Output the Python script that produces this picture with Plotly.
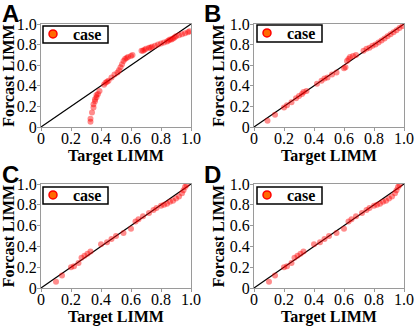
import plotly.graph_objects as go

# ---------------- data ----------------
xa = [0.33,0.33,0.34,0.35,0.35,0.36,0.36,0.37,0.37,0.38,0.39,0.42,0.43,0.44,0.45,0.47,0.49,0.51,0.52,0.53,
      0.54,0.55,0.56,0.57,0.58,0.60,0.61,0.67,0.68,0.69,0.70,0.72,0.73,0.74,0.76,0.78,0.80,0.82,0.84,0.85,
      0.86,0.87,0.88,0.89,0.90,0.92,0.94,0.96,0.98,0.99]
ya = [0.05,0.08,0.14,0.19,0.22,0.25,0.27,0.29,0.31,0.32,0.35,0.41,0.43,0.44,0.45,0.48,0.51,0.53,0.55,0.58,
      0.61,0.64,0.66,0.67,0.68,0.69,0.70,0.74,0.74,0.75,0.76,0.77,0.77,0.78,0.79,0.80,0.81,0.82,0.83,0.84,
      0.85,0.85,0.86,0.87,0.88,0.89,0.90,0.91,0.92,0.93]

xb = [0.09,0.14,0.20,0.22,0.25,0.28,0.30,0.32,0.33,0.35,0.42,0.45,0.47,0.49,0.52,0.55,0.60,0.61,0.62,0.63,
      0.64,0.66,0.68,0.73,0.75,0.77,0.79,0.81,0.83,0.85,0.87,0.89,0.91,0.93,0.95,0.97,0.99]
yb = [0.06,0.12,0.19,0.21,0.24,0.28,0.30,0.32,0.34,0.35,0.42,0.45,0.47,0.48,0.51,0.53,0.57,0.58,0.64,0.66,
      0.68,0.69,0.70,0.74,0.76,0.77,0.79,0.80,0.82,0.84,0.86,0.88,0.90,0.92,0.94,0.96,0.98]

xc = [0.10,0.14,0.20,0.22,0.25,0.27,0.29,0.31,0.33,0.40,0.44,0.47,0.50,0.55,0.60,0.63,0.65,0.68,0.72,0.75,
      0.77,0.80,0.82,0.84,0.86,0.88,0.90,0.92,0.94,0.95,0.96,0.97]
yc = [0.06,0.12,0.20,0.21,0.24,0.29,0.31,0.33,0.35,0.42,0.44,0.47,0.50,0.53,0.57,0.64,0.66,0.69,0.72,0.75,
      0.77,0.79,0.80,0.81,0.83,0.84,0.86,0.88,0.91,0.94,0.97,0.99]

xd = [0.10,0.14,0.20,0.22,0.25,0.27,0.29,0.31,0.33,0.40,0.44,0.47,0.50,0.55,0.60,0.63,0.65,0.68,0.72,0.75,
      0.77,0.80,0.82,0.84,0.86,0.88,0.90,0.92,0.94,0.95,0.96,0.97]
yd = [0.06,0.12,0.20,0.21,0.24,0.29,0.31,0.33,0.35,0.42,0.44,0.47,0.50,0.53,0.57,0.64,0.66,0.69,0.72,0.75,
      0.77,0.79,0.80,0.81,0.83,0.84,0.86,0.88,0.91,0.94,0.97,0.99]

diag = [0, 1]
tick_vals = [0, 0.2, 0.4, 0.6, 0.8, 1.0]
tick_text = ["0", "0.2", "0.4", "0.6", "0.8", "1.0"]
panel_labels = ["A", "B", "C", "D"]
series_name = "case"
x_title = "Target LIMM"
y_title = "Forcast LIMM"

# ---------------- figure ----------------
W, H = 415, 327
fig = go.Figure()

panels = [(xa, ya), (xb, yb), (xc, yc), (xd, yd)]
xdom = [[41 / W, 191 / W], [254 / W, 404 / W]]
ydom = [[1 - 127 / H, 1 - 24 / H], [1 - 288 / H, 1 - 184 / H]]
legend_box = [(43, 26), (257, 25), (43, 187), (257, 187)]   # top-left of box, px
box_w, box_h = 65, 17
label_pos = [(10, 13), (213, 13), (10, 174), (212, 174)]

serif = "Liberation Serif"

for i, (px, py) in enumerate(panels):
    sfx = "" if i == 0 else str(i + 1)
    xa_ref, ya_ref = "x" + sfx, "y" + sfx
    leg = "legend" if i == 0 else "legend" + str(i + 1)
    fig.add_trace(go.Scatter(x=diag, y=diag, mode="lines", line=dict(color="black", width=1.2),
                             xaxis=xa_ref, yaxis=ya_ref, showlegend=False, hoverinfo="skip"))
    fig.add_trace(go.Scatter(x=px, y=py, mode="markers",
                             marker=dict(color="rgba(255,0,0,0.45)", size=6, line=dict(width=0)),
                             xaxis=xa_ref, yaxis=ya_ref, showlegend=False, name=series_name))
    fig.add_trace(go.Scatter(x=[None], y=[None], mode="markers", name=series_name,
                             marker=dict(color="#ff6a00", size=8, line=dict(color="#ff0000", width=1.5)),
                             xaxis=xa_ref, yaxis=ya_ref, legend=leg, showlegend=True))

    c, r = i % 2, i // 2
    axis_common = dict(range=[0, 1], showgrid=False, zeroline=False, showline=True, mirror=True,
                       linecolor="#9a9a9a", linewidth=1, ticks="outside", ticklen=3, tickcolor="#9a9a9a",
                       tickvals=tick_vals, ticktext=tick_text, automargin=False,
                       tickfont=dict(family=serif, size=16, color="black"))
    fig.layout["xaxis" + sfx] = dict(axis_common, domain=xdom[c], anchor=ya_ref, ticklabelstandoff=-6,
                                     title=dict(text=x_title, standoff=0,
                                                font=dict(family=serif, size=16, color="black", weight="bold")))
    fig.layout["yaxis" + sfx] = dict(axis_common, domain=ydom[r], anchor=xa_ref, ticklabelstandoff=-3,
                                     title=dict(text=y_title, standoff=1,
                                                font=dict(family=serif, size=16, color="black", weight="bold")))
    bx, by = legend_box[i]
    fig.add_shape(type="rect", xref="paper", yref="paper",
                  x0=bx / W, x1=(bx + box_w) / W, y0=1 - (by + box_h) / H, y1=1 - by / H,
                  line=dict(color="black", width=1.5), fillcolor="white", layer="above")
    fig.layout[leg] = dict(x=bx / W, y=1 - (by + box_h / 2 - 17.5) / H, xanchor="left", yanchor="top",
                           indentation=-10,
                           bgcolor="rgba(0,0,0,0)", borderwidth=0,
                           font=dict(family=serif, size=16, color="black", weight="bold"),
                           itemwidth=30, tracegroupgap=0)
    ax, ay = label_pos[i]
    fig.add_annotation(x=ax / W, y=1 - ay / H, xref="paper", yref="paper", text=panel_labels[i],
                       showarrow=False, xanchor="center", yanchor="middle",
                       font=dict(family="Liberation Sans", size=24, color="black", weight="bold"))

fig.update_layout(width=W, height=H, margin=dict(l=0, r=0, t=0, b=0),
                  paper_bgcolor="white", plot_bgcolor="white")

fig.write_html("out.html", config={"displayModeBar": False},
               post_script="document.body.style.margin='0';document.body.style.overflow='hidden';")
